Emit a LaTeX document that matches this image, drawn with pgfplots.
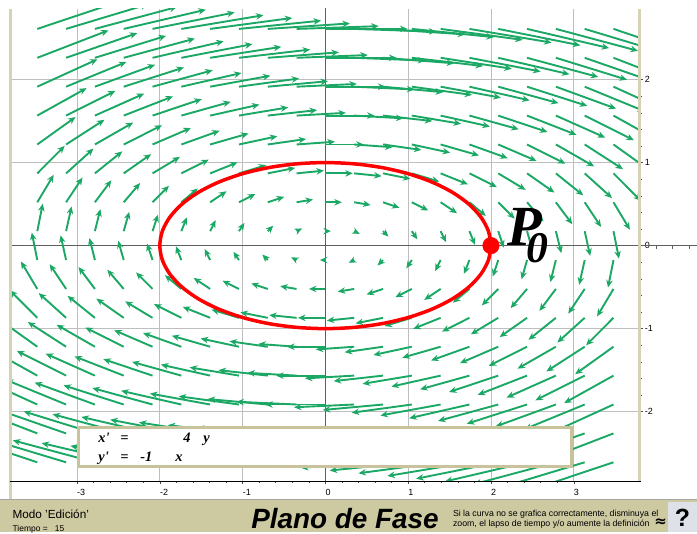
\documentclass[border=0pt]{standalone}
\usepackage{fontspec}
\setmainfont{Liberation Sans}
\newfontfamily\timesf{Liberation Serif}
\newfontfamily\dejavu{DejaVu Sans}
\usepackage{pgfplots}
\pgfplotsset{compat=1.18}
\usepackage{pgfplotstable}
\usetikzlibrary{arrows.meta}

\definecolor{arrowgreen}{RGB}{26,168,100}
\definecolor{rulerbeige}{RGB}{214,210,180}
\definecolor{boxbeige}{RGB}{200,195,155}
\definecolor{statusbar}{RGB}{205,201,161}
\definecolor{qbtn}{RGB}{222,226,232}
\definecolor{gridgray}{RGB}{190,190,190}
\definecolor{axisgray}{RGB}{95,95,95}

% vector field x' = 4y, y' = -x sampled on the grid of the reference
\pgfplotstableread[row sep=\\]{
x y u v\\
-3.48 2.61 10.44 3.48\\ -3.132 2.61 10.44 3.132\\ -2.784 2.61 10.44 2.784\\ -2.436 2.61 10.44 2.436\\ -2.088 2.61 10.44 2.088\\ -1.74 2.61 10.44 1.74\\ -1.392 2.61 10.44 1.392\\ -1.044 2.61 10.44 1.044\\ -0.696 2.61 10.44 0.696\\ -0.348 2.61 10.44 0.348\\ 0 2.61 10.44 0\\ 0.348 2.61 10.44 -0.348\\ 0.696 2.61 10.44 -0.696\\ 1.044 2.61 10.44 -1.044\\ 1.392 2.61 10.44 -1.392\\ 1.74 2.61 10.44 -1.74\\ 2.088 2.61 10.44 -2.088\\ 2.436 2.61 10.44 -2.436\\ 2.784 2.61 10.44 -2.784\\ 3.132 2.61 10.44 -3.132\\ 3.48 2.61 10.44 -3.48\\
-3.48 2.262 9.048 3.48\\ -3.132 2.262 9.048 3.132\\ -2.784 2.262 9.048 2.784\\ -2.436 2.262 9.048 2.436\\ -2.088 2.262 9.048 2.088\\ -1.74 2.262 9.048 1.74\\ -1.392 2.262 9.048 1.392\\ -1.044 2.262 9.048 1.044\\ -0.696 2.262 9.048 0.696\\ -0.348 2.262 9.048 0.348\\ 0 2.262 9.048 0\\ 0.348 2.262 9.048 -0.348\\ 0.696 2.262 9.048 -0.696\\ 1.044 2.262 9.048 -1.044\\ 1.392 2.262 9.048 -1.392\\ 1.74 2.262 9.048 -1.74\\ 2.088 2.262 9.048 -2.088\\ 2.436 2.262 9.048 -2.436\\ 2.784 2.262 9.048 -2.784\\ 3.132 2.262 9.048 -3.132\\ 3.48 2.262 9.048 -3.48\\
-3.48 1.914 7.656 3.48\\ -3.132 1.914 7.656 3.132\\ -2.784 1.914 7.656 2.784\\ -2.436 1.914 7.656 2.436\\ -2.088 1.914 7.656 2.088\\ -1.74 1.914 7.656 1.74\\ -1.392 1.914 7.656 1.392\\ -1.044 1.914 7.656 1.044\\ -0.696 1.914 7.656 0.696\\ -0.348 1.914 7.656 0.348\\ 0 1.914 7.656 0\\ 0.348 1.914 7.656 -0.348\\ 0.696 1.914 7.656 -0.696\\ 1.044 1.914 7.656 -1.044\\ 1.392 1.914 7.656 -1.392\\ 1.74 1.914 7.656 -1.74\\ 2.088 1.914 7.656 -2.088\\ 2.436 1.914 7.656 -2.436\\ 2.784 1.914 7.656 -2.784\\ 3.132 1.914 7.656 -3.132\\ 3.48 1.914 7.656 -3.48\\
-3.48 1.566 6.264 3.48\\ -3.132 1.566 6.264 3.132\\ -2.784 1.566 6.264 2.784\\ -2.436 1.566 6.264 2.436\\ -2.088 1.566 6.264 2.088\\ -1.74 1.566 6.264 1.74\\ -1.392 1.566 6.264 1.392\\ -1.044 1.566 6.264 1.044\\ -0.696 1.566 6.264 0.696\\ -0.348 1.566 6.264 0.348\\ 0 1.566 6.264 0\\ 0.348 1.566 6.264 -0.348\\ 0.696 1.566 6.264 -0.696\\ 1.044 1.566 6.264 -1.044\\ 1.392 1.566 6.264 -1.392\\ 1.74 1.566 6.264 -1.74\\ 2.088 1.566 6.264 -2.088\\ 2.436 1.566 6.264 -2.436\\ 2.784 1.566 6.264 -2.784\\ 3.132 1.566 6.264 -3.132\\ 3.48 1.566 6.264 -3.48\\
-3.48 1.218 4.872 3.48\\ -3.132 1.218 4.872 3.132\\ -2.784 1.218 4.872 2.784\\ -2.436 1.218 4.872 2.436\\ -2.088 1.218 4.872 2.088\\ -1.74 1.218 4.872 1.74\\ -1.392 1.218 4.872 1.392\\ -1.044 1.218 4.872 1.044\\ -0.696 1.218 4.872 0.696\\ -0.348 1.218 4.872 0.348\\ 0 1.218 4.872 0\\ 0.348 1.218 4.872 -0.348\\ 0.696 1.218 4.872 -0.696\\ 1.044 1.218 4.872 -1.044\\ 1.392 1.218 4.872 -1.392\\ 1.74 1.218 4.872 -1.74\\ 2.088 1.218 4.872 -2.088\\ 2.436 1.218 4.872 -2.436\\ 2.784 1.218 4.872 -2.784\\ 3.132 1.218 4.872 -3.132\\ 3.48 1.218 4.872 -3.48\\
-3.48 0.87 3.48 3.48\\ -3.132 0.87 3.48 3.132\\ -2.784 0.87 3.48 2.784\\ -2.436 0.87 3.48 2.436\\ -2.088 0.87 3.48 2.088\\ -1.74 0.87 3.48 1.74\\ -1.392 0.87 3.48 1.392\\ -1.044 0.87 3.48 1.044\\ -0.696 0.87 3.48 0.696\\ -0.348 0.87 3.48 0.348\\ 0 0.87 3.48 0\\ 0.348 0.87 3.48 -0.348\\ 0.696 0.87 3.48 -0.696\\ 1.044 0.87 3.48 -1.044\\ 1.392 0.87 3.48 -1.392\\ 1.74 0.87 3.48 -1.74\\ 2.088 0.87 3.48 -2.088\\ 2.436 0.87 3.48 -2.436\\ 2.784 0.87 3.48 -2.784\\ 3.132 0.87 3.48 -3.132\\ 3.48 0.87 3.48 -3.48\\
-3.48 0.522 2.088 3.48\\ -3.132 0.522 2.088 3.132\\ -2.784 0.522 2.088 2.784\\ -2.436 0.522 2.088 2.436\\ -2.088 0.522 2.088 2.088\\ -1.74 0.522 2.088 1.74\\ -1.392 0.522 2.088 1.392\\ -1.044 0.522 2.088 1.044\\ -0.696 0.522 2.088 0.696\\ -0.348 0.522 2.088 0.348\\ 0 0.522 2.088 0\\ 0.348 0.522 2.088 -0.348\\ 0.696 0.522 2.088 -0.696\\ 1.044 0.522 2.088 -1.044\\ 1.392 0.522 2.088 -1.392\\ 1.74 0.522 2.088 -1.74\\ 2.088 0.522 2.088 -2.088\\ 2.436 0.522 2.088 -2.436\\ 2.784 0.522 2.088 -2.784\\ 3.132 0.522 2.088 -3.132\\ 3.48 0.522 2.088 -3.48\\
-3.48 0.174 0.696 3.48\\ -3.132 0.174 0.696 3.132\\ -2.784 0.174 0.696 2.784\\ -2.436 0.174 0.696 2.436\\ -2.088 0.174 0.696 2.088\\ -1.74 0.174 0.696 1.74\\ -1.392 0.174 0.696 1.392\\ -1.044 0.174 0.696 1.044\\ -0.696 0.174 0.696 0.696\\ -0.348 0.174 0.696 0.348\\ 0 0.174 0.696 0\\ 0.348 0.174 0.696 -0.348\\ 0.696 0.174 0.696 -0.696\\ 1.044 0.174 0.696 -1.044\\ 1.392 0.174 0.696 -1.392\\ 1.74 0.174 0.696 -1.74\\ 2.088 0.174 0.696 -2.088\\ 2.436 0.174 0.696 -2.436\\ 2.784 0.174 0.696 -2.784\\ 3.132 0.174 0.696 -3.132\\ 3.48 0.174 0.696 -3.48\\
-3.48 -0.174 -0.696 3.48\\ -3.132 -0.174 -0.696 3.132\\ -2.784 -0.174 -0.696 2.784\\ -2.436 -0.174 -0.696 2.436\\ -2.088 -0.174 -0.696 2.088\\ -1.74 -0.174 -0.696 1.74\\ -1.392 -0.174 -0.696 1.392\\ -1.044 -0.174 -0.696 1.044\\ -0.696 -0.174 -0.696 0.696\\ -0.348 -0.174 -0.696 0.348\\ 0 -0.174 -0.696 0\\ 0.348 -0.174 -0.696 -0.348\\ 0.696 -0.174 -0.696 -0.696\\ 1.044 -0.174 -0.696 -1.044\\ 1.392 -0.174 -0.696 -1.392\\ 1.74 -0.174 -0.696 -1.74\\ 2.088 -0.174 -0.696 -2.088\\ 2.436 -0.174 -0.696 -2.436\\ 2.784 -0.174 -0.696 -2.784\\ 3.132 -0.174 -0.696 -3.132\\ 3.48 -0.174 -0.696 -3.48\\
-3.48 -0.522 -2.088 3.48\\ -3.132 -0.522 -2.088 3.132\\ -2.784 -0.522 -2.088 2.784\\ -2.436 -0.522 -2.088 2.436\\ -2.088 -0.522 -2.088 2.088\\ -1.74 -0.522 -2.088 1.74\\ -1.392 -0.522 -2.088 1.392\\ -1.044 -0.522 -2.088 1.044\\ -0.696 -0.522 -2.088 0.696\\ -0.348 -0.522 -2.088 0.348\\ 0 -0.522 -2.088 0\\ 0.348 -0.522 -2.088 -0.348\\ 0.696 -0.522 -2.088 -0.696\\ 1.044 -0.522 -2.088 -1.044\\ 1.392 -0.522 -2.088 -1.392\\ 1.74 -0.522 -2.088 -1.74\\ 2.088 -0.522 -2.088 -2.088\\ 2.436 -0.522 -2.088 -2.436\\ 2.784 -0.522 -2.088 -2.784\\ 3.132 -0.522 -2.088 -3.132\\ 3.48 -0.522 -2.088 -3.48\\
-3.48 -0.87 -3.48 3.48\\ -3.132 -0.87 -3.48 3.132\\ -2.784 -0.87 -3.48 2.784\\ -2.436 -0.87 -3.48 2.436\\ -2.088 -0.87 -3.48 2.088\\ -1.74 -0.87 -3.48 1.74\\ -1.392 -0.87 -3.48 1.392\\ -1.044 -0.87 -3.48 1.044\\ -0.696 -0.87 -3.48 0.696\\ -0.348 -0.87 -3.48 0.348\\ 0 -0.87 -3.48 0\\ 0.348 -0.87 -3.48 -0.348\\ 0.696 -0.87 -3.48 -0.696\\ 1.044 -0.87 -3.48 -1.044\\ 1.392 -0.87 -3.48 -1.392\\ 1.74 -0.87 -3.48 -1.74\\ 2.088 -0.87 -3.48 -2.088\\ 2.436 -0.87 -3.48 -2.436\\ 2.784 -0.87 -3.48 -2.784\\ 3.132 -0.87 -3.48 -3.132\\ 3.48 -0.87 -3.48 -3.48\\
-3.48 -1.218 -4.872 3.48\\ -3.132 -1.218 -4.872 3.132\\ -2.784 -1.218 -4.872 2.784\\ -2.436 -1.218 -4.872 2.436\\ -2.088 -1.218 -4.872 2.088\\ -1.74 -1.218 -4.872 1.74\\ -1.392 -1.218 -4.872 1.392\\ -1.044 -1.218 -4.872 1.044\\ -0.696 -1.218 -4.872 0.696\\ -0.348 -1.218 -4.872 0.348\\ 0 -1.218 -4.872 0\\ 0.348 -1.218 -4.872 -0.348\\ 0.696 -1.218 -4.872 -0.696\\ 1.044 -1.218 -4.872 -1.044\\ 1.392 -1.218 -4.872 -1.392\\ 1.74 -1.218 -4.872 -1.74\\ 2.088 -1.218 -4.872 -2.088\\ 2.436 -1.218 -4.872 -2.436\\ 2.784 -1.218 -4.872 -2.784\\ 3.132 -1.218 -4.872 -3.132\\ 3.48 -1.218 -4.872 -3.48\\
-3.48 -1.566 -6.264 3.48\\ -3.132 -1.566 -6.264 3.132\\ -2.784 -1.566 -6.264 2.784\\ -2.436 -1.566 -6.264 2.436\\ -2.088 -1.566 -6.264 2.088\\ -1.74 -1.566 -6.264 1.74\\ -1.392 -1.566 -6.264 1.392\\ -1.044 -1.566 -6.264 1.044\\ -0.696 -1.566 -6.264 0.696\\ -0.348 -1.566 -6.264 0.348\\ 0 -1.566 -6.264 0\\ 0.348 -1.566 -6.264 -0.348\\ 0.696 -1.566 -6.264 -0.696\\ 1.044 -1.566 -6.264 -1.044\\ 1.392 -1.566 -6.264 -1.392\\ 1.74 -1.566 -6.264 -1.74\\ 2.088 -1.566 -6.264 -2.088\\ 2.436 -1.566 -6.264 -2.436\\ 2.784 -1.566 -6.264 -2.784\\ 3.132 -1.566 -6.264 -3.132\\ 3.48 -1.566 -6.264 -3.48\\
-3.48 -1.914 -7.656 3.48\\ -3.132 -1.914 -7.656 3.132\\ -2.784 -1.914 -7.656 2.784\\ -2.436 -1.914 -7.656 2.436\\ -2.088 -1.914 -7.656 2.088\\ -1.74 -1.914 -7.656 1.74\\ -1.392 -1.914 -7.656 1.392\\ -1.044 -1.914 -7.656 1.044\\ -0.696 -1.914 -7.656 0.696\\ -0.348 -1.914 -7.656 0.348\\ 0 -1.914 -7.656 0\\ 0.348 -1.914 -7.656 -0.348\\ 0.696 -1.914 -7.656 -0.696\\ 1.044 -1.914 -7.656 -1.044\\ 1.392 -1.914 -7.656 -1.392\\ 1.74 -1.914 -7.656 -1.74\\ 2.088 -1.914 -7.656 -2.088\\ 2.436 -1.914 -7.656 -2.436\\ 2.784 -1.914 -7.656 -2.784\\ 3.132 -1.914 -7.656 -3.132\\ 3.48 -1.914 -7.656 -3.48\\
-3.48 -2.262 -9.048 3.48\\ -3.132 -2.262 -9.048 3.132\\ -2.784 -2.262 -9.048 2.784\\ -2.436 -2.262 -9.048 2.436\\ -2.088 -2.262 -9.048 2.088\\ -1.74 -2.262 -9.048 1.74\\ -1.392 -2.262 -9.048 1.392\\ -1.044 -2.262 -9.048 1.044\\ -0.696 -2.262 -9.048 0.696\\ -0.348 -2.262 -9.048 0.348\\ 0 -2.262 -9.048 0\\ 0.348 -2.262 -9.048 -0.348\\ 0.696 -2.262 -9.048 -0.696\\ 1.044 -2.262 -9.048 -1.044\\ 1.392 -2.262 -9.048 -1.392\\ 1.74 -2.262 -9.048 -1.74\\ 2.088 -2.262 -9.048 -2.088\\ 2.436 -2.262 -9.048 -2.436\\ 2.784 -2.262 -9.048 -2.784\\ 3.132 -2.262 -9.048 -3.132\\ 3.48 -2.262 -9.048 -3.48\\
-3.48 -2.61 -10.44 3.48\\ -3.132 -2.61 -10.44 3.132\\ -2.784 -2.61 -10.44 2.784\\ -2.436 -2.61 -10.44 2.436\\ -2.088 -2.61 -10.44 2.088\\ -1.74 -2.61 -10.44 1.74\\ -1.392 -2.61 -10.44 1.392\\ -1.044 -2.61 -10.44 1.044\\ -0.696 -2.61 -10.44 0.696\\ -0.348 -2.61 -10.44 0.348\\ 0 -2.61 -10.44 0\\ 0.348 -2.61 -10.44 -0.348\\ 0.696 -2.61 -10.44 -0.696\\ 1.044 -2.61 -10.44 -1.044\\ 1.392 -2.61 -10.44 -1.392\\ 1.74 -2.61 -10.44 -1.74\\ 2.088 -2.61 -10.44 -2.088\\ 2.436 -2.61 -10.44 -2.436\\ 2.784 -2.61 -10.44 -2.784\\ 3.132 -2.61 -10.44 -3.132\\ 3.48 -2.61 -10.44 -3.48\\
}\fielddata

% trajectory through P0 = (2,0)
\pgfplotstableread[row sep=\\]{
x y\\
2 0\\ 1.9696 0.1736\\ 1.8794 0.3420\\ 1.7321 0.5\\ 1.5321 0.6428\\ 1.2856 0.7660\\ 1.0 0.8660\\ 0.6840 0.9397\\ 0.3473 0.9848\\ 0 1\\
-0.3473 0.9848\\ -0.6840 0.9397\\ -1.0 0.8660\\ -1.2856 0.7660\\ -1.5321 0.6428\\ -1.7321 0.5\\ -1.8794 0.3420\\ -1.9696 0.1736\\ -2 0\\
-1.9696 -0.1736\\ -1.8794 -0.3420\\ -1.7321 -0.5\\ -1.5321 -0.6428\\ -1.2856 -0.7660\\ -1.0 -0.8660\\ -0.6840 -0.9397\\ -0.3473 -0.9848\\ 0 -1\\
0.3473 -0.9848\\ 0.6840 -0.9397\\ 1.0 -0.8660\\ 1.2856 -0.7660\\ 1.5321 -0.6428\\ 1.7321 -0.5\\ 1.8794 -0.3420\\ 1.9696 -0.1736\\ 2 0\\
}\orbitdata

\begin{document}
\begin{tikzpicture}
\fill[white] (0bp,0bp) rectangle (697bp,-533bp);
\begin{axis}[
  at={(10bp,-482bp)}, anchor=south west,
  scale only axis, width=630bp, height=473bp,
  xmin=-3.805, xmax=3.795, ymin=-2.84, ymax=2.85,
  axis line style={draw=none},
  xtick={-3,-2,-1,0,1,2,3}, xticklabels={-3,-2,-1,0,1,2,3},
  ytick={-2,-1,0,1,2}, yticklabels={-2,-1,0,1,2},
  minor x tick num=4, minor y tick num=4,
  xtick pos=bottom, ytick pos=right,
  xticklabel pos=bottom, yticklabel pos=right,
  tick align=outside,
  major tick length=3bp, minor tick length=2bp,
  tick style={black!70, line width=0.5bp},
  grid=major, major grid style={draw=gridgray, line width=0.9bp},
  xticklabel style={font=\fontsize{9}{9}\selectfont, anchor=north west, inner sep=0pt, yshift=-5bp, xshift=0bp},
  yticklabel style={font=\fontsize{9}{9}\selectfont, anchor=west, inner sep=0pt, xshift=2bp},
]
\addplot[axisgray, line width=1bp] coordinates {(-3.9,0) (3.9,0)};
\addplot[axisgray, line width=1bp] coordinates {(0,-2.9) (0,2.9)};
\addplot[arrowgreen, line width=1.9bp,
  quiver={u=\thisrow{u}, v=\thisrow{v}, scale arrows=0.095,
    every arrow/.append style={-{Stealth[length=7.5bp,width=6.5bp]}}}]
  table[x=x, y=y] {\fielddata};
\addplot[red, line width=3.5bp, smooth] table[x=x, y=y] {\orbitdata};
\addplot[only marks, mark=*, mark size=8.3bp, red] coordinates {(2,0)};
\end{axis}

% rulers and borders
\draw[rulerbeige, line width=2.5bp] (10bp,-9bp) -- (10bp,-501bp);
\draw[rulerbeige, line width=2.5bp] (640bp,-9bp) -- (640bp,-483bp);
\draw[black, line width=1bp] (10bp,-482bp) -- (641bp,-482bp);
\draw[axisgray, line width=1bp] (641bp,-246bp) -- (697bp,-246bp);
\foreach \t in {657,673,690} {\draw[axisgray, line width=0.6bp] (\t bp,-246bp) -- (\t bp,-249bp);}

% P0 label
\node[anchor=base west, inner sep=0pt] at (508bp,-246bp) {\timesf\bfseries\itshape\fontsize{57}{57}\selectfont P};
\node[anchor=base west, inner sep=0pt] at (527bp,-263bp) {\timesf\bfseries\itshape\fontsize{44}{44}\selectfont 0};

% equation box
\draw[boxbeige, line width=3bp, fill=white] (78bp,-428bp) rectangle (572bp,-467bp);
\begin{scope}[every node/.style={anchor=base west, inner sep=0pt, font=\timesf\bfseries\itshape\fontsize{14.5}{14.5}\selectfont}]
\node at (98bp,-443bp) {x'};
\node at (120bp,-443bp) {=};
\node at (183bp,-443bp) {4};
\node at (203bp,-443bp) {y};
\node at (98bp,-462bp) {y'};
\node at (120bp,-462bp) {=};
\node at (140bp,-462bp) {-1};
\node at (175bp,-462bp) {x};
\end{scope}

% status bar
\fill[statusbar] (0bp,-500bp) rectangle (697bp,-533bp);
\draw[black!35, line width=0.8bp] (0bp,-500bp) -- (697bp,-500bp);
\node[anchor=base west, inner sep=0pt, font=\fontsize{11.8}{11.8}\selectfont] at (12bp,-519bp) {Modo 'Edición'};
\node[anchor=base west, inner sep=0pt, font=\fontsize{8.5}{8.5}\selectfont] at (12bp,-532bp) {Tiempo =\ \ \ 15};
\node[anchor=base, inner sep=0pt, font=\bfseries\itshape\fontsize{28}{28}\selectfont] at (345bp,-529bp) {Plano de Fase};
\node[anchor=base west, inner sep=0pt, font=\fontsize{8.8}{8.8}\selectfont] at (453bp,-517bp) {Si la curva no se grafica correctamente, disminuya el};
\node[anchor=base west, inner sep=0pt, font=\fontsize{8.8}{8.8}\selectfont] at (453bp,-527bp) {zoom, el lapso de tiempo y/o aumente la definición};
\node[anchor=center, inner sep=0pt, font=\dejavu\bfseries\fontsize{15}{15}\selectfont] at (661bp,-523bp) {≈};
\fill[qbtn] (668bp,-503bp) rectangle (697bp,-533bp);
\node[anchor=center, inner sep=0pt, font=\bfseries\fontsize{25}{25}\selectfont] at (683bp,-518bp) {?};
\end{tikzpicture}
\end{document}
